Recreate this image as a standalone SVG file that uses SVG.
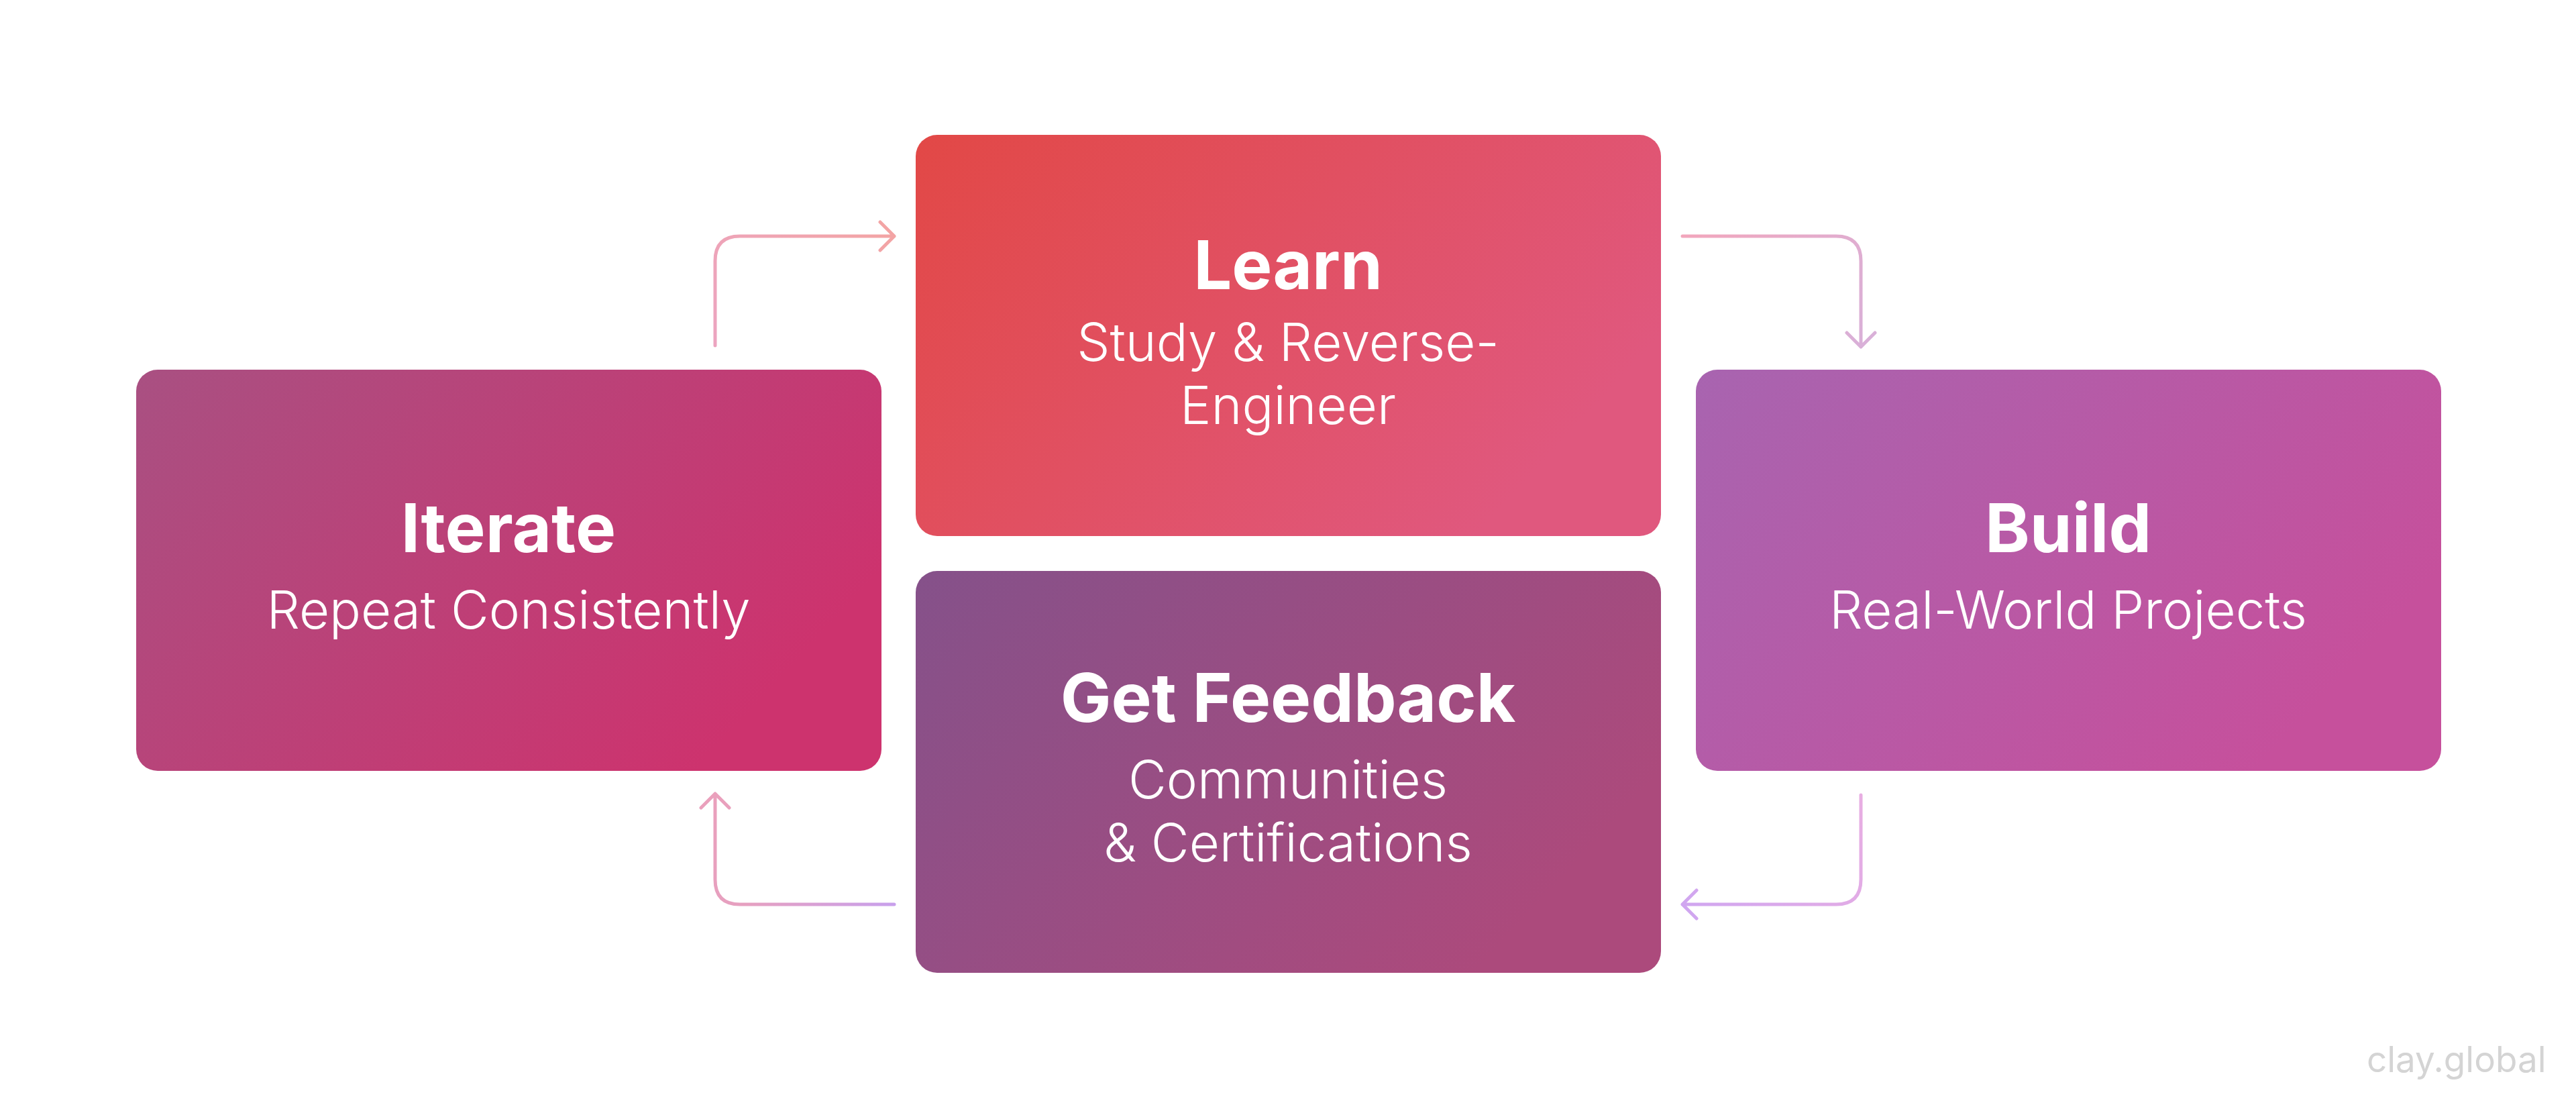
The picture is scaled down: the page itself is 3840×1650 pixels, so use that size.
<svg xmlns="http://www.w3.org/2000/svg" width="3840" height="1650" viewBox="0 0 3840 1650">
<style>
.title{font-family:Inter,"Noto Sans","Liberation Sans",sans-serif;font-weight:700;font-size:101px;fill:#fff;text-anchor:middle}
.sub{font-family:Inter,"Noto Sans","Liberation Sans",sans-serif;font-weight:300;font-size:78px;fill:#fff;text-anchor:middle}
.conn{fill:none;stroke-width:5;stroke-linecap:round;stroke-linejoin:round}
.mark{font-family:Inter,"Noto Sans","Liberation Sans",sans-serif;font-size:53px;fill:#D4D4D4}
</style>
<defs>
<linearGradient id="gLearn" x1="0" y1="0" x2="1" y2="0.5"><stop offset="0" stop-color="#E24846"/><stop offset="1" stop-color="#E0587E"/></linearGradient>
<linearGradient id="gIter" x1="0" y1="0" x2="1" y2="0.5"><stop offset="0" stop-color="#A95082"/><stop offset="1" stop-color="#CD336E"/></linearGradient>
<linearGradient id="gBuild" x1="0" y1="0" x2="1" y2="0.5"><stop offset="0" stop-color="#A864B0"/><stop offset="1" stop-color="#C6509C"/></linearGradient>
<linearGradient id="gFb" x1="0" y1="0" x2="1" y2="0.5"><stop offset="0" stop-color="#85518A"/><stop offset="1" stop-color="#AC4A7C"/></linearGradient>
<linearGradient id="c1" gradientUnits="userSpaceOnUse" x1="1066" y1="515" x2="1333" y2="352"><stop offset="0" stop-color="#ECA4C0"/><stop offset="1" stop-color="#F3A4A4"/></linearGradient>
<linearGradient id="c2" gradientUnits="userSpaceOnUse" x1="2508" y1="352" x2="2774" y2="517"><stop offset="0" stop-color="#F2A6BC"/><stop offset="1" stop-color="#D9B0D8"/></linearGradient>
<linearGradient id="c3" gradientUnits="userSpaceOnUse" x1="2774" y1="1185" x2="2508" y2="1348"><stop offset="0" stop-color="#E8AEE2"/><stop offset="1" stop-color="#D0A6F0"/></linearGradient>
<linearGradient id="c4" gradientUnits="userSpaceOnUse" x1="1333" y1="1348" x2="1066" y2="1183"><stop offset="0" stop-color="#C8A0EC"/><stop offset="0.6" stop-color="#E6A0C0"/><stop offset="1" stop-color="#EAA0BC"/></linearGradient>
</defs>
<rect width="3840" height="1650" fill="#fff"/>
<g id="connectors">
<path class="conn" stroke="url(#c1)" d="M1066,515 V389 Q1066,352 1103,352 H1333 M1312,331 L1333,352 L1312,373"/>
<path class="conn" stroke="url(#c2)" d="M2508,352 H2737 Q2774,352 2774,389 V517 M2753,496 L2774,517 L2795,496"/>
<path class="conn" stroke="url(#c3)" d="M2774,1185 V1311 Q2774,1348 2737,1348 H2508 M2529,1327 L2508,1348 L2529,1369"/>
<path class="conn" stroke="url(#c4)" d="M1333,1348 H1103 Q1066,1348 1066,1311 V1183 M1045,1204 L1066,1183 L1087,1204"/>
</g>
<g id="learn">
<rect x="1365" y="201" width="1111" height="598" rx="32" fill="url(#gLearn)"/>
<text class="title" x="1920" y="431">Learn</text>
<text class="sub" x="1920" y="538">Study &amp; Reverse-</text>
<text class="sub" x="1920" y="632">Engineer</text>
</g>
<g id="iterate">
<rect x="203" y="551" width="1111" height="598" rx="32" fill="url(#gIter)"/>
<text class="title" x="758" y="823">Iterate</text>
<text class="sub" x="758" y="937">Repeat Consistently</text>
</g>
<g id="build">
<rect x="2528" y="551" width="1111" height="598" rx="32" fill="url(#gBuild)"/>
<text class="title" x="3083" y="823">Build</text>
<text class="sub" x="3083" y="937">Real-World Projects</text>
</g>
<g id="feedback">
<rect x="1365" y="851" width="1111" height="599" rx="32" fill="url(#gFb)"/>
<text class="title" x="1920" y="1076">Get Feedback</text>
<text class="sub" x="1920" y="1190">Communities</text>
<text class="sub" x="1920" y="1284">&amp; Certifications</text>
</g>
<text class="mark" x="3528" y="1598">clay.global</text>
</svg>
